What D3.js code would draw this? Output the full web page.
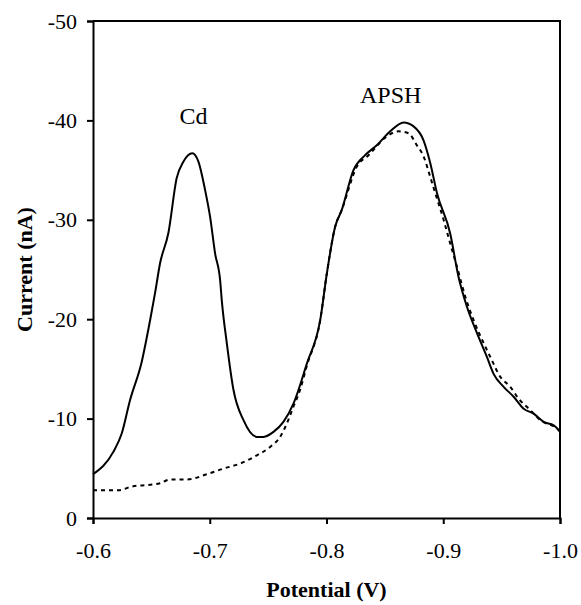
<!DOCTYPE html>
<html>
<head>
<meta charset="utf-8">
<script src="https://cdn.jsdelivr.net/npm/d3@7"></script>
<style>
  body { margin: 0; background: #fff; }
  svg { display: block; }
  .axis path, .axis line { stroke: #000; stroke-width: 2; }
</style>
</head>
<body>
<svg width="581" height="605"></svg>
<script>
const serif = '"Liberation Serif", "Times New Roman", Times, serif';

// solid trace: Cd + APSH
const solidPotential = [-0.6, -0.6174, -0.6246, -0.6317, -0.6417, -0.6489, -0.6531, -0.6574, -0.6646, -0.6717,
  -0.6774, -0.6851, -0.6903, -0.696, -0.7003, -0.7046, -0.7089, -0.7103, -0.7146, -0.7203, -0.7289, -0.7403,
  -0.746, -0.7546, -0.7631, -0.7717, -0.7831, -0.7946, -0.8003, -0.8074, -0.8131, -0.8231, -0.8331, -0.8431,
  -0.8546, -0.866, -0.8746, -0.8831, -0.8889, -0.8946, -0.906, -0.913, -0.9203, -0.9289, -0.9374, -0.9431,
  -0.9517, -0.9603, -0.9689, -0.9774, -0.986, -0.9946, -1.0];
const solidCurrent = [-4.4, -6.65, -8.5, -11.85, -15.7, -19.9, -22.6, -25.6, -28.7, -34.2,
  -35.85, -36.7, -35.85, -33.0, -30.3, -26.6, -23.9, -21.9, -17.6, -12.9, -9.84, -8.16,
  -8.16, -8.66, -9.67, -11.5, -15.5, -19.9, -24.6, -29.3, -31.0, -35.0, -36.5, -37.5,
  -38.9, -39.8, -39.4, -38.0, -35.7, -32.7, -28.6, -24.3, -21.25, -18.6, -16.2, -14.5,
  -13.2, -12.2, -11.0, -10.5, -9.67, -9.33, -8.7];

// dotted trace: APSH only
const dottedPotential = [-0.6, -0.6231, -0.6317, -0.6574, -0.666, -0.6803, -0.6974, -0.7117, -0.726, -0.7403,
  -0.7517, -0.7603, -0.766, -0.7717, -0.7774, -0.7831, -0.7946, -0.8003, -0.8074, -0.8131, -0.826, -0.836,
  -0.8517, -0.8617, -0.8703, -0.8774, -0.8831, -0.8889, -0.8931, -0.9003, -0.906, -0.9117, -0.9189, -0.926,
  -0.9346, -0.9403, -0.9489, -0.9574, -0.9646, -0.9746, -0.9831, -0.9974, -1.0];
const dottedCurrent = [-2.8, -2.8, -3.12, -3.5, -3.87, -3.87, -4.4, -4.97, -5.47, -6.3,
  -7.15, -8.16, -9.5, -11.2, -12.9, -15.3, -19.9, -24.6, -29.3, -31.0, -35.35, -36.5,
  -38.4, -38.9, -38.7, -37.5, -36.4, -34.3, -32.7, -30.0, -27.6, -25.3, -22.25, -19.9,
  -17.6, -16.2, -14.2, -13.2, -12.0, -10.85, -9.84, -9.0, -8.7];

const xTicks = [-0.6, -0.7, -0.8, -0.9, -1.0];
const yTicks = [0, -10, -20, -30, -40, -50];
const peakLabels = [
  { text: 'Cd', x: -0.686, y: -39.6 },
  { text: 'APSH', x: -0.855, y: -41.8 }
];

var svg = d3.select('svg'),
  margin = { top: 21, right: 21, bottom: 87, left: 93 },
  width = svg.attr('width') - margin.left - margin.right,
  height = svg.attr('height') - margin.top - margin.bottom,
  g = svg.append('g').attr('transform', 'translate(' + margin.left + ',' + margin.top + ')');

const x = d3.scaleLinear().domain([-0.6, -1.0]).range([0, width]);
const y = d3.scaleLinear().domain([0, -50]).range([height, 0]);

const line = d3.line()
  .curve(d3.curveMonotoneX)
  .x(d => x(d[0]))
  .y(d => y(d[1]));

// frame (top and right)
g.append('path')
  .attr('d', 'M0,0H' + width + 'V' + height)
  .attr('fill', 'none')
  .attr('stroke', '#000')
  .attr('stroke-width', 2);

g.append('g')
  .attr('class', 'axis axis--x')
  .attr('transform', 'translate(0,' + height + ')')
  .call(d3.axisBottom(x).tickValues(xTicks).tickSizeOuter(0).tickSize(6).tickPadding(18)
    .tickFormat(d => d.toFixed(1)));

g.append('g')
  .attr('class', 'axis axis--y')
  .call(d3.axisLeft(y).tickValues(yTicks).tickSizeOuter(0).tickSize(6).tickPadding(10)
    .tickFormat(d => String(d)));

g.selectAll('.axis')
  .attr('font-family', serif)
  .attr('font-size', 22)
  .selectAll('text')
  .style('font-family', serif)
  .style('font-size', '22px')
  .attr('fill', '#000');

g.append('path')
  .attr('d', line(dottedPotential.map((p, i) => [p, dottedCurrent[i]])))
  .attr('fill', 'none')
  .attr('stroke', '#000')
  .attr('stroke-width', 2)
  .attr('stroke-dasharray', '4,4');

g.append('path')
  .attr('d', line(solidPotential.map((p, i) => [p, solidCurrent[i]])))
  .attr('fill', 'none')
  .attr('stroke', '#000')
  .attr('stroke-width', 2);

g.selectAll('.peak')
  .data(peakLabels)
  .enter().append('text')
  .attr('class', 'peak')
  .attr('x', d => x(d.x))
  .attr('y', d => y(d.y))
  .attr('text-anchor', 'middle')
  .style('font-family', serif)
  .style('font-size', '24px')
  .text(d => d.text);

svg.append('text')
  .attr('x', margin.left + width / 2)
  .attr('y', 597)
  .attr('text-anchor', 'middle')
  .style('font-family', serif)
  .style('font-size', '22px')
  .style('font-weight', 'bold')
  .text('Potential (V)');

svg.append('text')
  .attr('transform', 'translate(32,' + (margin.top + height / 2) + ') rotate(-90)')
  .attr('text-anchor', 'middle')
  .style('font-family', serif)
  .style('font-size', '22px')
  .style('font-weight', 'bold')
  .text('Current (nA)');
</script>
</body>
</html>
